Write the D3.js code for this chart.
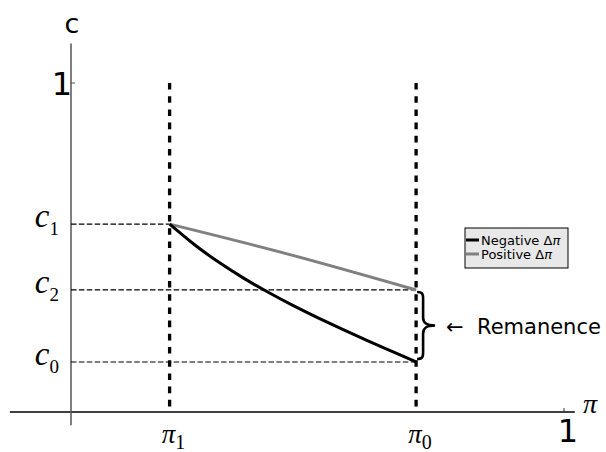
<!DOCTYPE html>
<html>
<head>
<meta charset="utf-8">
<script src="https://cdn.jsdelivr.net/npm/d3@7"></script>
<style>
  html, body { margin: 0; padding: 0; background: #fff; }
  svg { display: block; }
</style>
</head>
<body>
<svg id="chart" width="606" height="452"></svg>
<script>
// Threshold levels on the price axis and their labels
const piMarks = [0.2, 0.7];
const piMarkLabels = ["1", "0"];          // subscripts for π
// Concentration levels and their labels
const cLevels = [0.571, 0.371, 0.152];
const cLevelLabels = ["1", "2", "0"];     // subscripts for c
const cLevelEnds = [0.2, 0.7, 0.7];       // where each guide line stops

// Path followed after a negative change in π
const negPi = [0.20, 0.25, 0.30, 0.35, 0.40, 0.45, 0.50, 0.55, 0.60, 0.65, 0.70];
const negC  = [0.571, 0.509, 0.455, 0.407, 0.364, 0.324, 0.287, 0.252, 0.218, 0.185, 0.152];
// Path followed after a positive change in π
const posPi = [0.20, 0.44, 0.70];
const posC  = [0.571, 0.480, 0.371];

const svg = d3.select("#chart");
const x = d3.scaleLinear().domain([0, 1]).range([71, 564]);
const y = d3.scaleLinear().domain([0, 1]).range([412, 83]);

const serif = "'Liberation Serif', 'DejaVu Serif', serif";
const sans = "'DejaVu Sans', sans-serif";

// Axes lines (extend a little past the unit square)
svg.append("line")
  .attr("x1", x(-0.124)).attr("x2", x(1.022))
  .attr("y1", y(0)).attr("y2", y(0))
  .attr("stroke", "#000").attr("stroke-width", 1.3);
svg.append("line")
  .attr("x1", x(0)).attr("x2", x(0))
  .attr("y1", y(1.12)).attr("y2", y(-0.04))
  .attr("stroke", "#555").attr("stroke-width", 1.5);

// Ticks at 1 (pointing inward)
svg.append("line")
  .attr("x1", x(1)).attr("x2", x(1))
  .attr("y1", y(0)).attr("y2", y(0) - 4)
  .attr("stroke", "#333").attr("stroke-width", 1);
svg.append("line")
  .attr("x1", x(0)).attr("x2", x(0) + 4)
  .attr("y1", y(1)).attr("y2", y(1))
  .attr("stroke", "#555").attr("stroke-width", 1);

svg.append("text").attr("x", x(1) + 4).attr("y", 442)
  .attr("text-anchor", "middle").attr("font-family", sans)
  .attr("font-size", 32).text("1");
svg.append("text").attr("x", x(0) + 1).attr("y", 95)
  .attr("text-anchor", "end").attr("font-family", sans)
  .attr("font-size", 32).text("1");

// Axis titles
svg.append("text").attr("x", x(0) + 1).attr("y", 33)
  .attr("text-anchor", "middle").attr("font-family", sans)
  .attr("font-size", 27).text("c");
svg.append("text").attr("x", 583).attr("y", 413)
  .attr("font-family", serif).attr("font-style", "italic")
  .attr("font-size", 28).text("π");

// Horizontal guides for the c levels
svg.selectAll(".cguide").data(cLevels).join("line")
  .attr("class", "cguide")
  .attr("x1", x(0)).attr("x2", (d, i) => x(cLevelEnds[i]))
  .attr("y1", d => y(d)).attr("y2", d => y(d))
  .attr("stroke", "#000").attr("stroke-width", 1.2)
  .attr("stroke-dasharray", "5.5,2.4");

// c level labels
cLevels.forEach((d, i) => {
  const t = svg.append("text")
    .attr("x", 59).attr("y", y(d) + 3)
    .attr("text-anchor", "end").attr("font-family", serif);
  t.append("tspan").attr("font-style", "italic").attr("font-size", 33).text("c");
  t.append("tspan").attr("font-size", 19).attr("dy", 8).text(cLevelLabels[i]);
});

// Vertical thresholds
svg.selectAll(".pimark").data(piMarks).join("line")
  .attr("class", "pimark")
  .attr("x1", d => x(d)).attr("x2", d => x(d))
  .attr("y1", y(1)).attr("y2", y(0))
  .attr("stroke", "#000").attr("stroke-width", 3.3)
  .attr("stroke-dasharray", "6.6,6.6");

piMarks.forEach((d, i) => {
  const t = svg.append("text")
    .attr("x", x(d) + 4).attr("y", 443)
    .attr("text-anchor", "middle").attr("font-family", serif);
  t.append("tspan").attr("font-style", "italic").attr("font-size", 27).text("π");
  t.append("tspan").attr("font-size", 20).attr("dy", 6).text(piMarkLabels[i]);
});

// Response curves
const curveLine = d3.line().x(d => x(d[0])).y(d => y(d[1])).curve(d3.curveNatural);

svg.append("path")
  .datum(posPi.map((p, i) => [p, posC[i]]))
  .attr("d", curveLine).attr("fill", "none")
  .attr("stroke", "#808080").attr("stroke-width", 3);
svg.append("path")
  .datum(negPi.map((p, i) => [p, negC[i]]))
  .attr("d", curveLine).attr("fill", "none")
  .attr("stroke", "#000").attr("stroke-width", 3);

// Brace spanning the gap between the two end points
const bx0 = x(0.7) + 1, bx1 = bx0 + 6, btip = bx0 + 18;
const bTop = y(posC[posC.length - 1]) + 2, bBot = y(negC[negC.length - 1]) - 3;
const bMid = (bTop + bBot) / 2;
svg.append("path")
  .attr("d", `M${bx0},${bTop} C${bx1 + 1},${bTop} ${bx1},${bTop + 4} ${bx1},${bTop + 10}
              L${bx1},${bMid - 8} C${bx1},${bMid - 2} ${bx1 + 4},${bMid} ${btip},${bMid}
              C${bx1 + 4},${bMid} ${bx1},${bMid + 2} ${bx1},${bMid + 8}
              L${bx1},${bBot - 10} C${bx1},${bBot - 4} ${bx1 + 1},${bBot} ${bx0},${bBot}`)
  .attr("fill", "none").attr("stroke", "#000").attr("stroke-width", 2.6);

svg.append("text").attr("x", 446).attr("y", 334)
  .attr("font-family", sans).attr("font-size", 21).text("←");
svg.append("text").attr("x", 477).attr("y", 334)
  .attr("font-family", sans).attr("font-size", 21).text("Remanence");

// Legend
const lg = svg.append("g").attr("transform", "translate(465,228)");
lg.append("rect").attr("width", 103).attr("height", 40)
  .attr("fill", "#e8e8e8").attr("stroke", "#000").attr("stroke-width", 1);
const legendItems = [["Negative", "#000"], ["Positive", "#808080"]];
legendItems.forEach((it, i) => {
  const yy = 12 + i * 14;
  lg.append("line").attr("x1", 1).attr("x2", 14).attr("y1", yy).attr("y2", yy)
    .attr("stroke", it[1]).attr("stroke-width", 3);
  const t = lg.append("text").attr("x", 16).attr("y", yy + 5)
    .attr("font-family", sans).attr("font-size", 13);
  t.append("tspan").text(it[0] + " Δ");
  t.append("tspan").attr("font-style", "italic").text("π");
});
</script>
</body>
</html>
